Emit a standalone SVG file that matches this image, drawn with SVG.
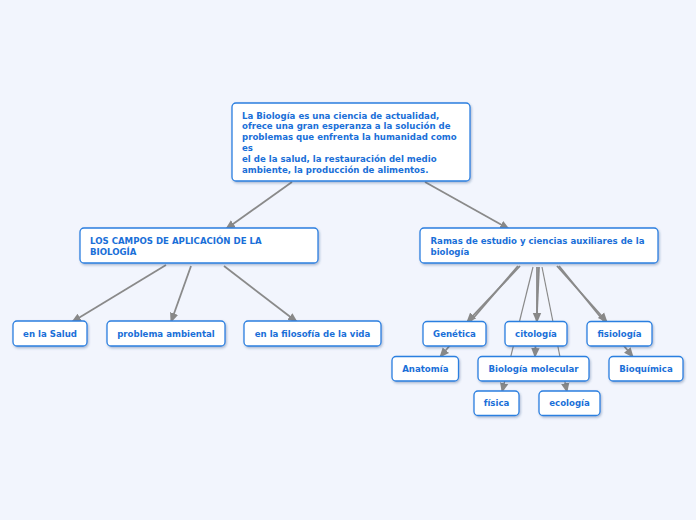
<svg xmlns="http://www.w3.org/2000/svg" width="696" height="520" viewBox="0 0 696 520">
<defs>
<marker id="ah" markerUnits="userSpaceOnUse" markerWidth="10" markerHeight="10" viewBox="0 0 10 10" refX="9" refY="5" orient="auto">
<path d="M0,0.8 L10,5 L0,9.2 Z" fill="#888"/>
</marker>
<filter id="sh" x="-10%" y="-10%" width="130%" height="140%">
<feDropShadow dx="1" dy="1.5" stdDeviation="0.8" flood-color="#2a4a80" flood-opacity="0.35"/>
</filter>
</defs>
<style>
.bx{fill:#fff;stroke:#2b7fe0;stroke-width:1.3;filter:url(#sh)}
.t{font-family:"DejaVu Sans",Verdana,sans-serif;font-weight:bold;font-size:8.6px;fill:#1a6fd8}
.c{text-anchor:middle}
.ln{stroke:#8a8a8a;stroke-width:1.8;fill:none;marker-end:url(#ah)}
.th{stroke:#8a8a8a;stroke-width:1.2;fill:none;marker-end:url(#ah)}
</style>
<rect width="696" height="520" fill="#f2f5fd"/>
<g id="connectors">
<line class="ln" x1="292" y1="182" x2="226" y2="229"/>
<line class="ln" x1="425" y1="182" x2="509" y2="229"/>
<line class="ln" x1="166" y1="265" x2="72" y2="322"/>
<line class="ln" x1="191" y1="266" x2="171" y2="322"/>
<line class="ln" x1="224" y1="266" x2="297" y2="322"/>
<line class="ln" x1="520" y1="266" x2="467" y2="322"/>
<line class="ln" x1="518" y1="266" x2="440" y2="357"/>
<line class="ln" x1="537" y1="267" x2="537" y2="322"/>
<line class="ln" x1="539" y1="267" x2="535" y2="357"/>
<line class="ln" x1="557" y1="266" x2="607" y2="322"/>
<line class="ln" x1="559" y1="266" x2="633" y2="357"/>
<line class="th" x1="533" y1="267" x2="502" y2="392"/>
<line class="th" x1="542" y1="267" x2="567" y2="392"/>
</g>
<g id="n-main">
<rect class="bx" x="232" y="103" width="238" height="78" rx="4"/>
<text class="t" x="242" y="118.5">La Biología es una ciencia de actualidad,</text>
<text class="t" x="242" y="129.3">ofrece una gran esperanza a la solución de</text>
<text class="t" x="242" y="140.1">problemas que enfrenta la humanidad como</text>
<text class="t" x="242" y="150.9">es</text>
<text class="t" x="242" y="161.7">el de la salud, la restauración del medio</text>
<text class="t" x="242" y="172.5">ambiente, la producción de alimentos.</text>
</g>
<g id="n-campos">
<rect class="bx" x="80" y="228" width="238" height="35" rx="4"/>
<text class="t" x="90" y="244.3">LOS CAMPOS DE APLICACIÓN DE LA</text>
<text class="t" x="90" y="255.1">BIOLOGÍA</text>
</g>
<g id="n-ramas">
<rect class="bx" x="420" y="228" width="238" height="35" rx="4"/>
<text class="t" x="430.5" y="244.3">Ramas de estudio y ciencias auxiliares de la</text>
<text class="t" x="430.5" y="255.1">biología</text>
</g>
<g id="n-salud">
<rect class="bx" x="13" y="321" width="74" height="25" rx="4"/>
<text class="t c" x="50" y="336.5">en la Salud</text>
</g>
<g id="n-ambiental">
<rect class="bx" x="107" y="321" width="118" height="25" rx="4"/>
<text class="t c" x="166" y="336.5">problema ambiental</text>
</g>
<g id="n-filosofia">
<rect class="bx" x="244" y="321" width="137" height="25" rx="4"/>
<text class="t c" x="312.5" y="336.5">en la filosofía de la vida</text>
</g>
<g id="n-genetica">
<rect class="bx" x="423" y="321.5" width="63" height="24.5" rx="4"/>
<text class="t c" x="454.5" y="336.5">Genética</text>
</g>
<g id="n-citologia">
<rect class="bx" x="505" y="321.5" width="62" height="24.5" rx="4"/>
<text class="t c" x="536" y="336.5">citología</text>
</g>
<g id="n-fisiologia">
<rect class="bx" x="587" y="321.5" width="65" height="24.5" rx="4"/>
<text class="t c" x="619.5" y="336.5">fisiología</text>
</g>
<g id="n-anatomia">
<rect class="bx" x="392" y="356.5" width="66.5" height="24.5" rx="4"/>
<text class="t c" x="425.3" y="371.5">Anatomía</text>
</g>
<g id="n-biomol">
<rect class="bx" x="478" y="356.5" width="111" height="24.5" rx="4"/>
<text class="t c" x="533.5" y="371.5">Biología molecular</text>
</g>
<g id="n-bioquimica">
<rect class="bx" x="609" y="356.5" width="74" height="24.5" rx="4"/>
<text class="t c" x="646" y="371.5">Bioquímica</text>
</g>
<g id="n-fisica">
<rect class="bx" x="474" y="391" width="45" height="24.5" rx="4"/>
<text class="t c" x="496.5" y="406">física</text>
</g>
<g id="n-ecologia">
<rect class="bx" x="539" y="391" width="61" height="24.5" rx="4"/>
<text class="t c" x="569.5" y="406">ecología</text>
</g>
</svg>
